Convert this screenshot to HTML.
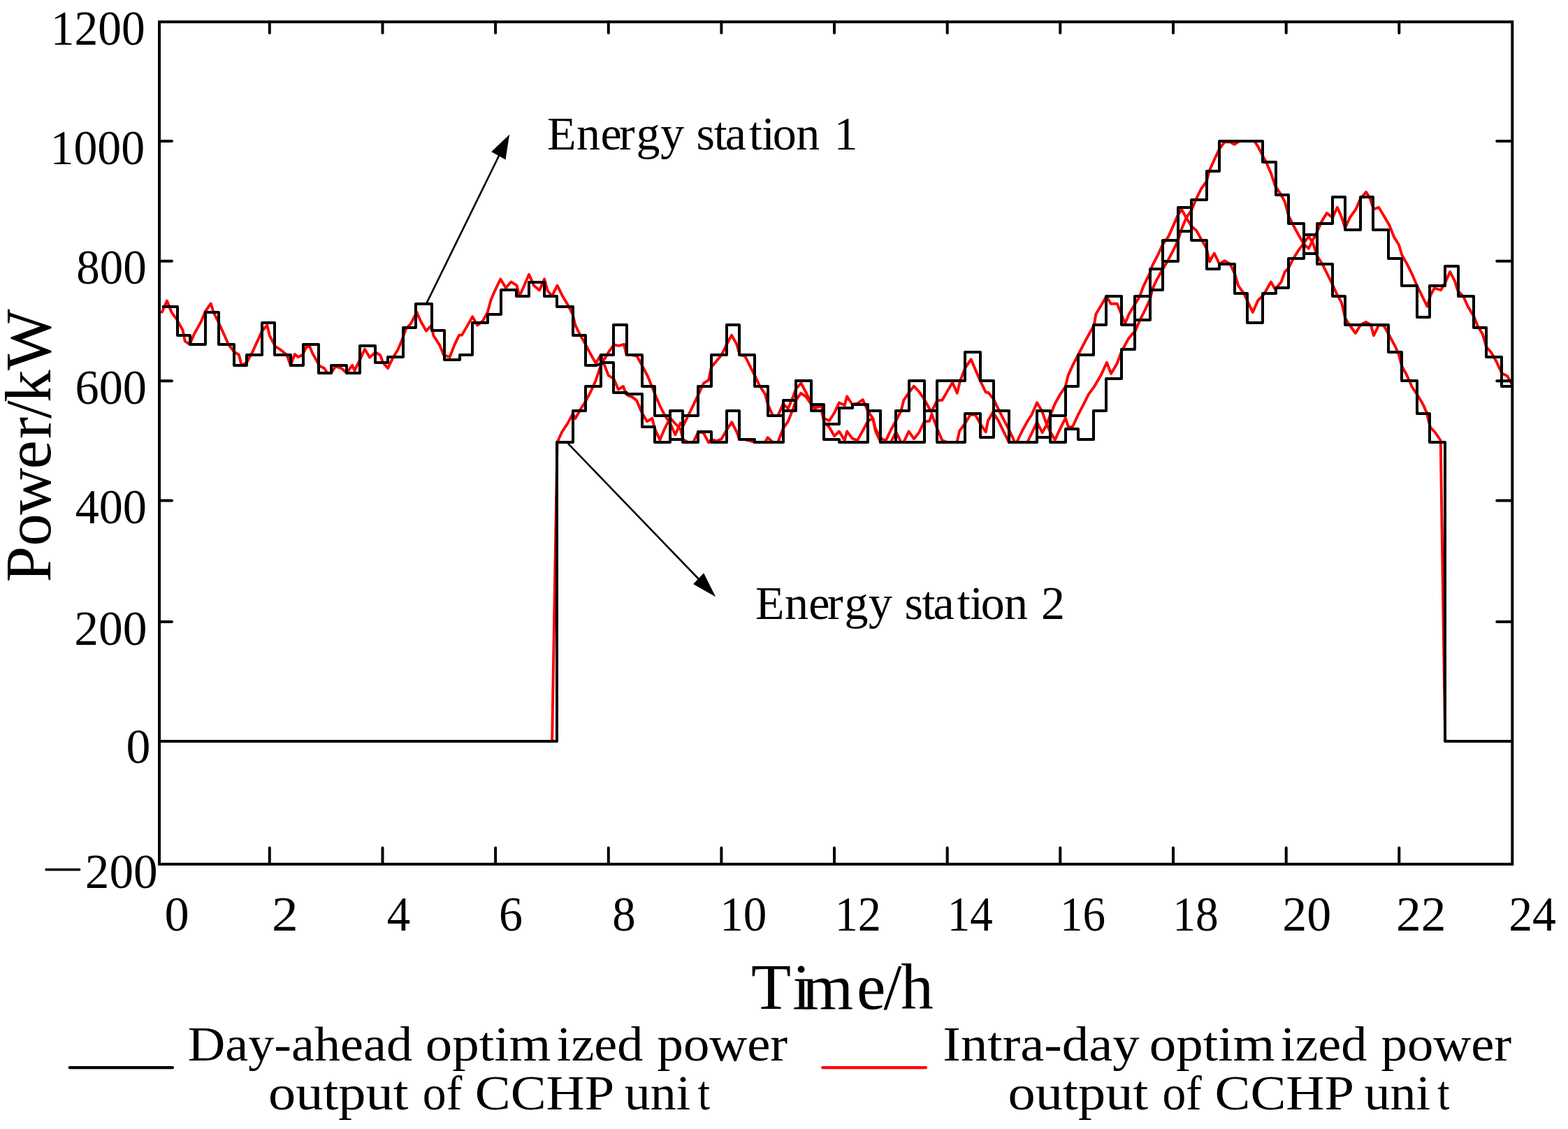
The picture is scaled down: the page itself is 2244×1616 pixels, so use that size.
<!DOCTYPE html>
<html lang="en">
<head>
<meta charset="utf-8">
<title>CCHP unit power output</title>
<style>
html,body{margin:0;padding:0;background:#fff;}
body{width:2244px;height:1616px;overflow:hidden;}
svg{display:block;}
</style>
</head>
<body>
<svg width="2244" height="1616" viewBox="0 0 2244 1616" role="img" aria-label="Day-ahead and intra-day optimized power output of CCHP units">
<rect x="0" y="0" width="2244" height="1616" fill="#fff"/>
<g fill="none" stroke="#ff0000" stroke-width="3.9" stroke-linejoin="round" stroke-linecap="round">
<polyline points="231.8,446.8 239.0,430.5 245.4,446.8 252.8,456.9 261.4,472.2 264.8,488.3 271.5,493.0 277.5,478.9 287.5,460.9 293.9,445.5 301.8,434.5 305.6,447.0 313.2,462.2 327.0,493.0 335.0,503.7 341.9,507.7 345.7,523.0 353.0,519.0 361.7,503.0 375.1,473.6 382.4,465.6 385.8,480.3 393.8,495.6 401.1,500.3 410.5,508.0 415.9,523.0 421.9,507.0 426.6,511.0 432.6,508.3 438.6,496.3 443.3,496.3 447.3,505.7 457.3,523.7 464.0,527.1 468.7,534.0 474.0,534.0 480.0,524.4 488.7,527.1 496.1,534.0 504.1,522.8 507.4,530.4 515.0,515.0 522.1,499.7 529.1,511.7 537.0,504.3 544.1,508.3 548.1,519.0 555.1,527.1 562.2,512.4 569.5,500.3 574.2,489.6 580.9,470.9 588.2,462.9 596.3,446.8 602.3,460.2 609.9,473.6 617.6,465.6 620.3,480.3 629.0,493.6 635.0,508.3 643.7,511.0 650.4,493.6 657.1,479.6 661.1,479.6 668.4,466.9 676.2,453.3 683.2,465.6 691.2,458.9 697.9,446.8 702.5,429.5 707.9,416.8 716.3,399.4 723.9,412.1 731.3,403.4 739.6,408.7 743.3,424.0 749.3,410.7 757.0,392.7 764.0,408.7 772.1,415.4 779.1,399.4 783.4,415.4 789.8,424.0 797.5,408.7 805.0,423.7 813.0,437.0 819.5,449.5 823.2,465.1 830.5,480.0 837.9,492.8 845.2,506.8 852.6,519.9 859.9,508.0 863.6,519.0 870.9,537.6 878.3,541.9 884.9,557.6 892.0,553.0 896.0,564.0 900.0,566.7 904.7,568.1 911.0,573.1 918.0,589.5 926.0,603.2 933.4,598.8 937.0,613.5 944.4,629.6 951.7,612.5 959.1,598.2 966.4,606.5 973.8,614.2 977.4,629.0 984.8,633.0 992.1,633.0 999.5,618.0 1006.8,619.5 1014.2,633.6 1017.8,628.9 1025.2,631.2 1032.6,628.2 1039.9,615.5 1047.2,604.2 1054.6,618.9 1058.2,629.0 1065.6,629.0 1072.9,630.9 1080.3,633.0 1087.6,633.0 1095.0,633.0 1098.6,626.2 1106.0,633.0 1113.3,633.0 1120.7,613.5 1128.0,602.8 1135.4,584.1 1139.0,573.0 1146.4,562.7 1153.7,568.1 1161.1,579.0 1168.4,588.0 1175.8,588.0 1179.4,604.2 1186.8,611.5 1194.1,624.2 1200.9,617.5 1208.8,630.2 1212.1,617.5 1219.8,627.6 1227.2,630.2 1234.5,616.9 1241.9,602.8 1249.2,598.8 1252.9,616.9 1260.2,633.0 1267.6,633.0 1274.9,633.0 1282.3,618.2 1289.6,633.0 1293.3,633.0 1300.6,617.5 1308.0,628.2 1315.3,618.9 1322.7,603.5 1330.0,602.8 1333.4,592.8 1341.0,612.9 1348.4,630.2 1355.7,633.0 1363.1,633.0 1369.5,633.0 1373.2,616.9 1381.4,605.5 1388.8,593.5 1396.1,594.1 1403.5,607.5 1410.8,618.5 1413.9,602.2 1421.0,590.1 1429.2,602.8 1436.5,618.2 1443.9,633.0 1455.0,633.0 1463.0,616.5 1470.3,603.1 1476.4,593.7 1484.1,576.4 1491.1,588.0 1496.4,603.1 1502.8,617.8 1509.8,629.8 1516.5,615.1 1524.9,598.4 1529.2,611.8 1535.2,610.5 1542.9,593.7 1549.9,580.4 1557.9,564.3 1565.9,553.6 1575.3,537.6 1584.0,518.9 1590.0,534.9 1598.7,520.2 1605.1,502.8 1615.4,484.1 1624.8,473.4 1631.4,458.0 1637.5,446.2 1645.9,428.2 1649.6,412.8 1655.6,400.1 1664.3,385.0 1671.6,372.7 1680.3,355.8 1685.9,344.0 1691.0,327.7 1697.7,311.7 1705.1,301.0 1712.4,283.6 1719.1,270.2 1726.8,259.5 1731.1,243.5 1737.8,228.8 1745.2,212.7 1752.5,203.4 1760.5,203.4 1766.6,206.7 1773.9,202.0 1795.3,202.0 1800.6,210.1 1808.0,224.8 1812.0,232.0 1818.7,247.4 1825.0,266.1 1832.1,276.8 1838.8,288.8 1844.1,308.9 1851.5,323.6 1858.8,337.0 1866.2,349.7 1872.9,355.7 1878.9,343.6 1884.9,331.6 1892.2,315.6 1898.9,304.9 1907.0,311.6 1913.9,296.8 1920.3,311.6 1925.0,326.3 1931.7,311.6 1940.4,299.5 1946.8,284.8 1955.1,274.8 1960.4,283.5 1965.8,299.5 1973.1,296.8 1980.5,308.9 1988.2,322.2 1995.2,339.6 2001.9,350.3 2006.3,365.0 2013.9,378.4 2020.6,391.8 2027.9,409.0 2035.3,423.9 2042.6,438.6 2047.3,422.5 2052.7,412.5 2062.0,415.2 2068.0,405.1 2075.1,389.1 2082.1,402.5 2086.1,415.8 2094.1,424.0 2100.4,438.0 2109.8,454.1 2115.1,467.4 2121.8,478.1 2127.2,496.8 2133.9,504.2 2141.9,518.2 2149.2,534.3 2157.2,538.3 2164.2,551.0"/>
<polyline points="790.1,1061.0 797.5,633.0 804.1,618.5 812.1,606.4 819.8,592.4 823.4,599.1 830.8,585.7 838.2,574.4 845.5,560.3 852.2,545.6 859.9,523.0 863.6,516.2 870.9,504.2 878.3,493.5 885.6,494.8 893.0,492.8 896.6,508.0 904.0,508.0 911.4,509.5 918.7,522.9 927.1,538.9 933.7,555.0 937.0,563.4 944.4,580.8 951.7,595.0 959.1,605.8 966.4,622.2 973.8,605.5 977.4,610.2 984.8,595.0 992.1,580.1 999.5,564.7 1006.8,548.7 1014.2,544.0 1018.0,525.6 1024.7,517.5 1032.7,508.0 1040.0,492.8 1047.0,479.8 1054.1,492.1 1058.7,508.0 1066.1,509.5 1072.8,522.9 1080.8,538.9 1087.6,553.0 1095.0,564.1 1098.6,578.1 1106.0,595.0 1113.3,595.0 1120.7,578.1 1128.0,584.8 1135.4,566.7 1139.0,556.7 1146.4,548.4 1153.7,562.1 1161.1,577.4 1168.4,583.4 1175.8,581.4 1179.4,598.8 1186.8,602.2 1194.1,590.8 1200.9,576.4 1208.8,580.1 1212.1,567.4 1219.8,579.0 1227.2,577.4 1234.8,572.1 1241.9,588.0 1249.2,598.8 1252.9,613.5 1260.2,626.9 1267.6,630.9 1274.9,615.5 1282.3,602.2 1289.6,588.0 1293.3,572.8 1300.6,562.1 1308.0,552.7 1315.3,560.7 1322.7,571.4 1330.0,584.8 1333.1,589.5 1341.0,573.4 1348.4,572.8 1355.7,560.1 1363.1,547.4 1369.8,562.7 1374.1,545.0 1381.2,526.9 1389.7,514.2 1396.1,529.6 1402.8,545.0 1410.9,561.7 1414.2,561.7 1421.8,571.0 1428.2,584.4 1436.3,600.4 1444.0,615.1 1452.3,633.0 1470.3,633.0 1477.0,619.1 1484.1,604.4 1491.7,619.1 1497.1,609.8 1502.8,595.0 1509.8,577.7 1516.5,565.7 1524.9,553.0 1528.5,537.6 1535.2,522.9 1542.9,508.0 1553.9,486.8 1565.9,465.0 1568.4,449.5 1576.1,436.8 1583.4,424.0 1589.7,434.8 1598.8,434.8 1605.5,451.6 1610.1,462.9 1615.8,449.5 1623.8,436.2 1631.2,424.0 1636.2,410.1 1645.9,390.1 1648.9,380.7 1657.6,363.8 1664.0,349.8 1672.3,338.4 1685.9,307.6 1691.0,299.6 1697.7,311.7 1705.1,323.7 1712.4,330.4 1719.1,342.4 1726.8,355.8 1731.1,374.5 1737.8,362.5 1745.2,378.0 1752.5,373.2 1760.5,378.0 1767.4,392.8 1772.1,408.8 1780.1,420.0 1786.1,432.9 1792.8,446.9 1800.2,430.2 1808.2,422.2 1818.9,403.5 1824.9,414.2 1833.6,403.5 1838.9,388.8 1844.3,383.4 1851.0,370.0 1857.6,359.4 1866.2,347.6 1872.9,338.3 1878.9,347.6 1884.9,366.4 1892.4,378.0 1899.1,391.4 1907.1,407.5 1913.8,422.2 1919.8,432.9 1925.2,455.6 1931.2,465.0 1939.9,477.0 1947.2,465.0 1954.6,461.0 1961.9,465.0 1965.9,480.3 1973.3,465.0 1980.6,466.3 1988.7,481.0 1996.7,495.7 2002.0,507.8 2006.0,523.8 2012.7,535.8 2019.4,550.5 2020.2,553.0 2028.2,565.0 2036.3,578.4 2041.6,590.4 2047.0,611.8 2053.6,618.5 2061.7,630.5 2068.2,1061.0"/>
</g>
<g fill="none" stroke="#000" stroke-width="4" stroke-linejoin="round" stroke-linecap="round">
<path d="M233.6 439.0 H254.0 V480.0 H272.0 V493.0 H294.0 V447.0 H313.0 V493.0 H335.0 V523.0 H353.0 V508.0 H375.0 V462.0 H393.0 V508.0 H416.0 V523.0 H434.0 V493.0 H456.0 V534.0 H474.0 V523.0 H496.0 V534.0 H515.0 V495.0 H537.0 V519.0 H555.0 V511.0 H577.0 V469.0 H595.0 V435.0 H618.0 V473.0 H636.0 V515.0 H658.0 V508.0 H676.0 V462.0 H698.0 V450.0 H717.0 V415.0 H739.0 V424.0 H757.0 V404.0 H779.0 V424.0 H797.0 V439.0 H820.0 V480.0 H838.0 V523.0 H853.5 L862.9 519.0 H878.0 V562.0 H897.0 V564.0 H919.0 V611.0 H937.0 V633.0 H959.0 V588.0 H977.0 V633.0 H999.0 V618.0 H1018.0 V633.0 H1040.0 V588.0 H1058.0 V629.0 H1080.0 V633.0 H1121.0 V573.0 H1139.0 V545.0 H1161.0 V579.0 H1179.0 V629.0 H1201.0 V633.0 H1242.0 V588.0 H1260.0 V633.0 H1323.0 V588.0 H1341.0 V633.0 H1381.0 V592.0 H1403.0 V626.0 H1422.0 V588.0 H1444.0 V633.0 H1484.0 V588.0 H1503.0 V633.0 H1525.0 V614.0 H1543.0 V629.0 H1565.0 V588.0 H1583.0 V542.0 H1605.0 V500.0 H1624.0 V458.0 H1646.0 V415.0 H1664.0 V374.0 H1686.0 V331.0 H1705.0 V286.0 H1727.0 V245.0 H1745.0 V202.0 H1807.0 V232.0 H1826.0 V279.0 H1844.0 V320.0 H1866.0 V363.0 H1885.0 V320.0 H1907.0 V282.0 H1925.0 V329.0 H1947.0 V282.0 H1965.0 V329.0 H1987.0 V370.0 H2006.0 V409.0 H2028.0 V454.0 H2046.0 V409.0 H2068.0 V381.0 H2087.0 V424.0 H2109.0 V469.0 H2127.0 V511.0 H2149.0 V553.0 H2164.3"/>
<path d="M228.0 1061.0 H797.0 V633.0 H820.0 V588.0 H838.0 V553.0 H860.0 V508.0 H878.0 V465.0 H897.0 V508.0 H919.0 V553.0 H937.0 V595.0 H959.0 V629.0 H977.0 V595.0 H999.0 V553.0 H1018.0 V508.0 H1040.0 V465.0 H1058.0 V508.0 H1080.0 V553.0 H1099.0 V595.0 H1121.0 V588.0 H1139.0 V545.0 H1161.0 V588.0 H1179.0 V607.0 H1201.0 V584.0 H1220.0 V579.0 H1242.0 V588.0 H1260.0 V633.0 H1282.0 V588.0 H1301.0 V545.0 H1323.0 V588.0 H1341.0 V545.0 H1381.0 V504.0 H1403.0 V545.0 H1422.0 V588.0 H1444.0 V633.0 H1484.0 V626.0 H1503.0 V595.0 H1525.0 V553.0 H1543.0 V508.0 H1565.0 V465.0 H1583.0 V424.0 H1605.0 V465.0 H1624.0 V424.0 H1646.0 V385.0 H1664.0 V344.0 H1686.0 V297.0 H1705.0 V344.0 H1727.0 V385.0 H1745.0 V378.0 H1767.0 V420.0 H1785.0 V462.0 H1807.0 V420.0 H1826.0 V412.0 H1844.0 V370.0 H1866.0 V336.0 H1885.0 V378.0 H1907.0 V424.0 H1925.0 V465.0 H1987.0 V504.0 H2006.0 V545.0 H2028.0 V592.0 H2046.0 V633.0 H2068.0 V1061.0 H2164.3"/>
</g>
<g fill="none" stroke="#000" stroke-width="4" stroke-linecap="round">
<rect x="228.0" y="31.3" width="1936.3" height="1205.6" stroke-linejoin="miter"/>
<path d="M385.8 31.3V47.3 M385.8 1236.9V1213.6" stroke-width="4"/>
<path d="M547.5 31.3V47.3 M547.5 1236.9V1213.6" stroke-width="4"/>
<path d="M709.1 31.3V47.3 M709.1 1236.9V1213.6" stroke-width="4"/>
<path d="M870.8 31.3V47.3 M870.8 1236.9V1213.6" stroke-width="4"/>
<path d="M1032.4 31.3V47.3 M1032.4 1236.9V1213.6" stroke-width="4"/>
<path d="M1194.0 31.3V47.3 M1194.0 1236.9V1213.6" stroke-width="4"/>
<path d="M1355.7 31.3V47.3 M1355.7 1236.9V1213.6" stroke-width="4"/>
<path d="M1517.3 31.3V47.3 M1517.3 1236.9V1213.6" stroke-width="4"/>
<path d="M1679.0 31.3V47.3 M1679.0 1236.9V1213.6" stroke-width="4"/>
<path d="M1840.7 31.3V47.3 M1840.7 1236.9V1213.6" stroke-width="4"/>
<path d="M2002.3 31.3V47.3 M2002.3 1236.9V1213.6" stroke-width="4"/>
<path d="M228.0 202.1H246.0 M2164.3 202.1H2142.2" stroke-width="4"/>
<path d="M228.0 373.8H246.0 M2164.3 373.8H2142.2" stroke-width="4"/>
<path d="M228.0 545.2H246.0 M2164.3 545.2H2142.2" stroke-width="4"/>
<path d="M228.0 716.5H246.0 M2164.3 716.5H2142.2" stroke-width="4"/>
<path d="M228.0 889.9H246.0 M2164.3 889.9H2142.2" stroke-width="4"/>
</g>
<g stroke="#000" stroke-width="2.6" fill="#000">
<line x1="610.3" y1="434.4" x2="716" y2="219"/>
<polygon points="729.1,192.4 703.2,217.3 723.5,228.6" stroke="none"/>
<line x1="812.8" y1="634.6" x2="1002" y2="831"/>
<polygon points="1024.2,854.2 992.1,836.0 1007.1,820.3" stroke="none"/>
</g>
<g font-family="'Liberation Serif', serif" fill="#000" xml:space="preserve">
<text transform="matrix(0.9837 0 0 1.0200 72.80 64.13)" font-size="68.6">1200</text>
<text transform="matrix(0.9883 0 0 1.0200 71.57 235.03)" font-size="68.6">1000</text>
<text transform="matrix(0.9760 0 0 1.0200 109.36 406.43)" font-size="68.6">800</text>
<text transform="matrix(0.9954 0 0 1.0200 107.51 578.03)" font-size="68.6">600</text>
<text transform="matrix(0.9939 0 0 1.0200 107.66 748.83)" font-size="68.6">400</text>
<text transform="matrix(1.0129 0 0 1.0200 106.26 923.23)" font-size="68.6">200</text>
<text transform="matrix(1.0188 0 0 1.0200 180.45 1092.13)" font-size="68.6">0</text>
<text transform="matrix(1.0256 0 0 1.0200 235.44 1332.10)" font-size="68.6">0</text>
<text transform="matrix(1.0982 0 0 1.0200 389.01 1332.10)" font-size="68.6">2</text>
<text transform="matrix(0.9750 0 0 1.0200 553.68 1332.10)" font-size="68.6">4</text>
<text transform="matrix(0.9915 0 0 1.0200 713.93 1332.10)" font-size="68.6">6</text>
<text transform="matrix(0.9744 0 0 1.0200 876.26 1332.10)" font-size="68.6">8</text>
<text transform="matrix(0.9800 0 0 1.0200 1030.22 1332.10)" font-size="68.6">10</text>
<text transform="matrix(0.9651 0 0 1.0200 1194.71 1332.10)" font-size="68.6">12</text>
<text transform="matrix(0.9480 0 0 1.0200 1355.81 1332.10)" font-size="68.6">14</text>
<text transform="matrix(0.9504 0 0 1.0200 1517.00 1332.10)" font-size="68.6">16</text>
<text transform="matrix(0.9533 0 0 1.0200 1678.18 1332.10)" font-size="68.6">18</text>
<text transform="matrix(1.0190 0 0 1.0200 1835.24 1332.10)" font-size="68.6">20</text>
<text transform="matrix(1.0397 0 0 1.0200 1998.08 1332.10)" font-size="68.6">22</text>
<text transform="matrix(0.9891 0 0 1.0200 2159.13 1332.10)" font-size="68.6">24</text>
<text transform="matrix(1 0 0 1.0000 0 1443.90)" font-size="93.4"><tspan x="1075.05">T</tspan><tspan x="1134.30">i</tspan><tspan x="1148.50">m</tspan><tspan x="1225.95">e</tspan><tspan x="1264.60">/</tspan><tspan x="1289.30">h</tspan></text>
<text transform="matrix(0 -1 1.0000 0 72.20 830.70)" font-size="93"><tspan x="-2.75">P</tspan><tspan x="49.00">o</tspan><tspan x="94.00">w</tspan><tspan x="159.15">e</tspan><tspan x="202.75">r</tspan><tspan x="231.70">/</tspan><tspan x="254.75">k</tspan><tspan x="300.60">W</tspan></text>
<text transform="matrix(1 0 0 1.0000 0 213.70)" font-size="68"><tspan x="783.10">E</tspan><tspan x="825.10">n</tspan><tspan x="859.45">e</tspan><tspan x="886.05">r</tspan><tspan x="910.50">g</tspan><tspan x="945.15">y</tspan> <tspan x="996.55">s</tspan><tspan x="1021.65">t</tspan><tspan x="1037.70">a</tspan><tspan x="1071.95">t</tspan><tspan x="1090.00">i</tspan><tspan x="1105.80">o</tspan><tspan x="1139.20">n</tspan> <tspan x="1193.50">1</tspan></text>
<text transform="matrix(1 0 0 1.0000 0 885.70)" font-size="68"><tspan x="1081.00">E</tspan><tspan x="1123.00">n</tspan><tspan x="1157.35">e</tspan><tspan x="1183.95">r</tspan><tspan x="1208.40">g</tspan><tspan x="1243.05">y</tspan> <tspan x="1294.45">s</tspan><tspan x="1319.55">t</tspan><tspan x="1335.60">a</tspan><tspan x="1369.85">t</tspan><tspan x="1387.90">i</tspan><tspan x="1403.70">o</tspan><tspan x="1437.10">n</tspan> <tspan x="1490.10">2</tspan></text>
<text transform="matrix(1 0 0 1.0000 0 1517.90)" font-size="70"><tspan x="268.78" textLength="321.26" lengthAdjust="spacingAndGlyphs">Day-ahead</tspan> <tspan x="608.88" textLength="179.44" lengthAdjust="spacingAndGlyphs">optim</tspan><tspan x="796.81" textLength="123.48" lengthAdjust="spacingAndGlyphs">ized</tspan> <tspan x="940.57" textLength="186.67" lengthAdjust="spacingAndGlyphs">power</tspan></text>
<text transform="matrix(1 0 0 1.0000 0 1517.90)" font-size="70"><tspan x="1349.36" textLength="281.35" lengthAdjust="spacingAndGlyphs">Intra-day</tspan> <tspan x="1644.88" textLength="179.44" lengthAdjust="spacingAndGlyphs">optim</tspan><tspan x="1832.81" textLength="123.48" lengthAdjust="spacingAndGlyphs">ized</tspan> <tspan x="1976.57" textLength="186.67" lengthAdjust="spacingAndGlyphs">power</tspan></text>
<text transform="matrix(1 0 0 1.0000 0 1587.80)" font-size="70"><tspan x="383.92" textLength="200.64" lengthAdjust="spacingAndGlyphs">output</tspan> <tspan x="604.84" textLength="56.32" lengthAdjust="spacingAndGlyphs">of</tspan> <tspan x="679.85" textLength="196.44" lengthAdjust="spacingAndGlyphs">CCHP</tspan> <tspan x="893.84" textLength="94.49" lengthAdjust="spacingAndGlyphs">uni</tspan><tspan x="998.63" textLength="17.27" lengthAdjust="spacingAndGlyphs">t</tspan></text>
<text transform="matrix(1 0 0 1.0000 0 1587.80)" font-size="70"><tspan x="1442.62" textLength="200.64" lengthAdjust="spacingAndGlyphs">output</tspan> <tspan x="1663.54" textLength="56.32" lengthAdjust="spacingAndGlyphs">of</tspan> <tspan x="1738.55" textLength="196.44" lengthAdjust="spacingAndGlyphs">CCHP</tspan> <tspan x="1952.54" textLength="94.49" lengthAdjust="spacingAndGlyphs">uni</tspan><tspan x="2057.33" textLength="17.27" lengthAdjust="spacingAndGlyphs">t</tspan></text>
<text transform="matrix(1 0 0 1.0200 0 1271.43)" font-size="68.6"><tspan x="59.27" y="-3.12" textLength="61.17" lengthAdjust="spacingAndGlyphs">−</tspan><tspan x="121.87" y="0" textLength="103.79" lengthAdjust="spacingAndGlyphs">200</tspan></text>
</g>
<g fill="none" stroke-width="4.2" stroke-linecap="round">
<line x1="99.7" y1="1528.1" x2="247" y2="1528.1" stroke="#000"/>
<line x1="1177.2" y1="1528.1" x2="1325" y2="1528.1" stroke="#ff0000"/>
</g>
</svg>
</body>
</html>
